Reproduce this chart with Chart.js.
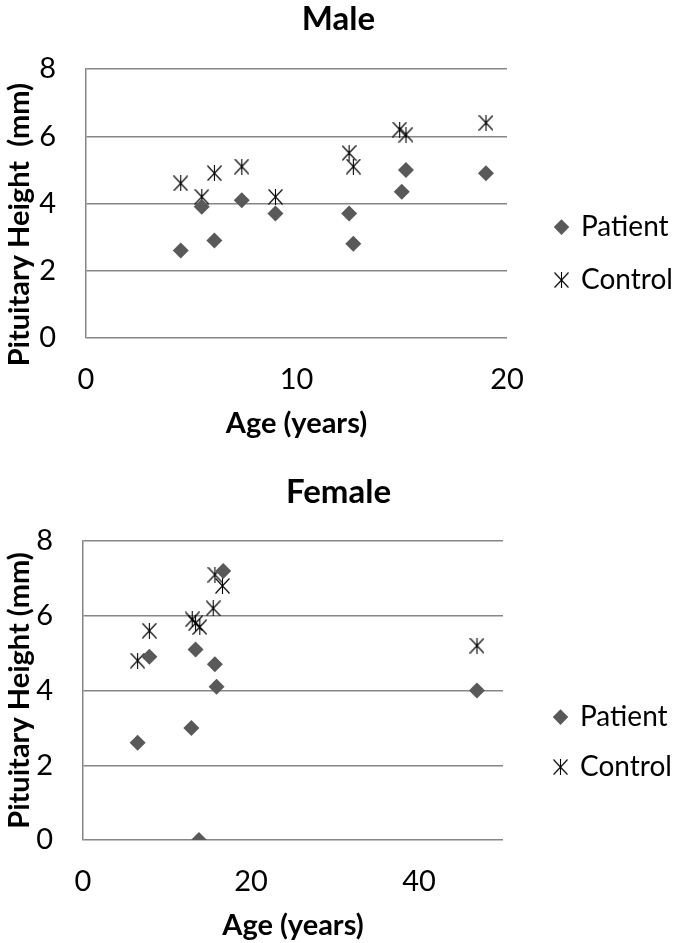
<!DOCTYPE html>
<html>
<head>
<meta charset="utf-8">
<title>Pituitary height by age</title>
<script src="https://cdnjs.cloudflare.com/ajax/libs/Chart.js/4.4.1/chart.umd.min.js"></script>
<style>
  html, body { margin: 0; padding: 0; background: #fff; }
  #wrap { position: relative; width: 677px; height: 943px; }
  canvas { position: absolute; left: 0; }
  #male { top: 0; }
  #female { top: 473px; }
</style>
</head>
<body>
<div id="wrap">
  <canvas id="male" width="677" height="441"></canvas>
  <canvas id="female" width="677" height="470"></canvas>
</div>
<script>
// Values (age in years, height in mm)
const SERIES = ['Patient', 'Control'];

const MALE_PATIENT_AGE  = [4.5, 5.5, 6.1, 7.4, 9.0, 12.5, 12.7, 15.0, 15.2, 19.0];
const MALE_PATIENT_HT   = [2.6, 3.9, 2.9, 4.1, 3.7, 3.7, 2.8, 4.35, 5.0, 4.9];
const MALE_CONTROL_AGE  = [4.5, 5.5, 6.1, 7.4, 9.0, 12.5, 12.7, 14.9, 15.2, 19.0];
const MALE_CONTROL_HT   = [4.6, 4.2, 4.9, 5.1, 4.2, 5.5, 5.1, 6.2, 6.05, 6.4];

const FEMALE_PATIENT_AGE = [6.5, 7.9, 12.9, 13.4, 13.8, 15.7, 15.9, 16.7, 46.9];
const FEMALE_PATIENT_HT  = [2.6, 4.9, 3.0, 5.1, 0.0, 4.7, 4.1, 7.2, 4.0];
const FEMALE_CONTROL_AGE = [6.5, 7.9, 13.0, 13.4, 13.9, 15.5, 15.7, 16.6, 46.9];
const FEMALE_CONTROL_HT  = [4.8, 5.6, 5.9, 5.8, 5.7, 6.2, 7.1, 6.8, 5.2];

const Y_TICKS        = [0, 2, 4, 6, 8];
const MALE_X_TICKS   = [0, 10, 20];
const FEMALE_X_TICKS = [0, 20, 40];

const GRID = '#868686';
Chart.defaults.font.family = 'Lato, "Open Sans", sans-serif';
Chart.defaults.color = '#000';

// Excel "star" marker: an X with a vertical bar through it
function starMarker(){
  const c = document.createElement('canvas');
  c.width = 15; c.height = 16;
  const g = c.getContext('2d');
  g.strokeStyle = '#000'; g.lineWidth = 1.1;
  g.beginPath();
  g.moveTo(0.5, 0.5);  g.lineTo(14.5, 15.5);
  g.moveTo(14.5, 0.5); g.lineTo(0.5, 15.5);
  g.moveTo(7.5, 0);    g.lineTo(7.5, 16);
  g.stroke();
  return c;
}
const STAR = starMarker();

const pts = (xs, ys) => xs.map((x, i) => ({x, y: ys[i]}));
const fixTicks = vals => s => { s.ticks = vals.map(v => ({value: v})); };

function scatter(id, o){
  return new Chart(document.getElementById(id), {
    type: 'scatter',
    data: {datasets: [
      {label: SERIES[0], data: pts(o.pAge, o.pHt), pointStyle: 'rectRot', pointRadius: 8, pointHoverRadius: 8,
       backgroundColor: '#595959', borderColor: '#595959', borderWidth: 0},
      {label: SERIES[1], data: pts(o.cAge, o.cHt), pointStyle: STAR, pointRadius: 8, pointHoverRadius: 8,
       backgroundColor: '#000', borderColor: '#000', borderWidth: 0},
    ]},
    options: {
      responsive: false, animation: false, events: [],
      layout: {padding: 0},
      plugins: {
        title: {display: true, text: o.title, color: '#000', font: {size: 33, weight: 'bold'},
                padding: {top: 0, bottom: o.titleGap}},
        legend: {position: 'right', maxWidth: o.legendW,
          title: {display: true, text: '', font: {size: 1}, padding: {top: o.legendShift, bottom: 0}},
          labels: {usePointStyle: true, boxWidth: 11, boxHeight: 11, padding: o.legendPad,
                   color: '#000', font: {size: 28}}},
        tooltip: {enabled: false},
      },
      scales: {
        x: {type: 'linear', min: 0, max: o.xMax, afterBuildTicks: fixTicks(o.xTicks), afterFit: s => { s.height = 103; },
            grid: {display: false, drawTicks: false}, border: {display: false},
            ticks: {padding: 24, font: {size: 29}, color: '#000'},
            title: {display: true, text: 'Age (years)', color: '#000', font: {size: 29, weight: 'bold'},
                    padding: {top: 0, bottom: 0}}},
        y: {type: 'linear', min: 0, max: 8, afterBuildTicks: fixTicks(Y_TICKS), afterFit: s => { s.width = o.yW; },
            grid: {color: GRID, lineWidth: 1.5, drawTicks: false},
            border: {display: true, color: GRID, width: 1.5},
            ticks: {padding: 30, font: {size: 29}, color: '#000'},
            title: {display: true, text: o.yTitle, color: '#000', font: {size: 29, weight: 'bold'},
                    padding: {top: 2, bottom: 0}}},
        // empty spacer between plot and legend
        gap: {type: 'linear', position: 'right', grid: {display: false, drawTicks: false},
              border: {display: false}, ticks: {display: false}, afterFit: s => { s.width = o.gapW; }},
      },
    },
  });
}

// the male axis title sits lower than the plot centre in the original; trailing spaces push it down
scatter('male', {
  title: 'Male', yTitle: 'Pituitary Height  (mm)      ', xMax: 20, xTicks: MALE_X_TICKS,
  pAge: MALE_PATIENT_AGE, pHt: MALE_PATIENT_HT, cAge: MALE_CONTROL_AGE, cHt: MALE_CONTROL_HT,
  titleGap: 29.4, yW: 86, gapW: 24, legendW: 146, legendPad: 25, legendShift: 65,
});
scatter('female', {
  title: 'Female', yTitle: 'Pituitary Height (mm)', xMax: 50, xTicks: FEMALE_X_TICKS,
  pAge: FEMALE_PATIENT_AGE, pHt: FEMALE_PATIENT_HT, cAge: FEMALE_CONTROL_AGE, cHt: FEMALE_CONTROL_HT,
  titleGap: 28.4, yW: 83, gapW: 30, legendW: 144, legendPad: 22, legendShift: 67,
});
</script>
</body>
</html>
